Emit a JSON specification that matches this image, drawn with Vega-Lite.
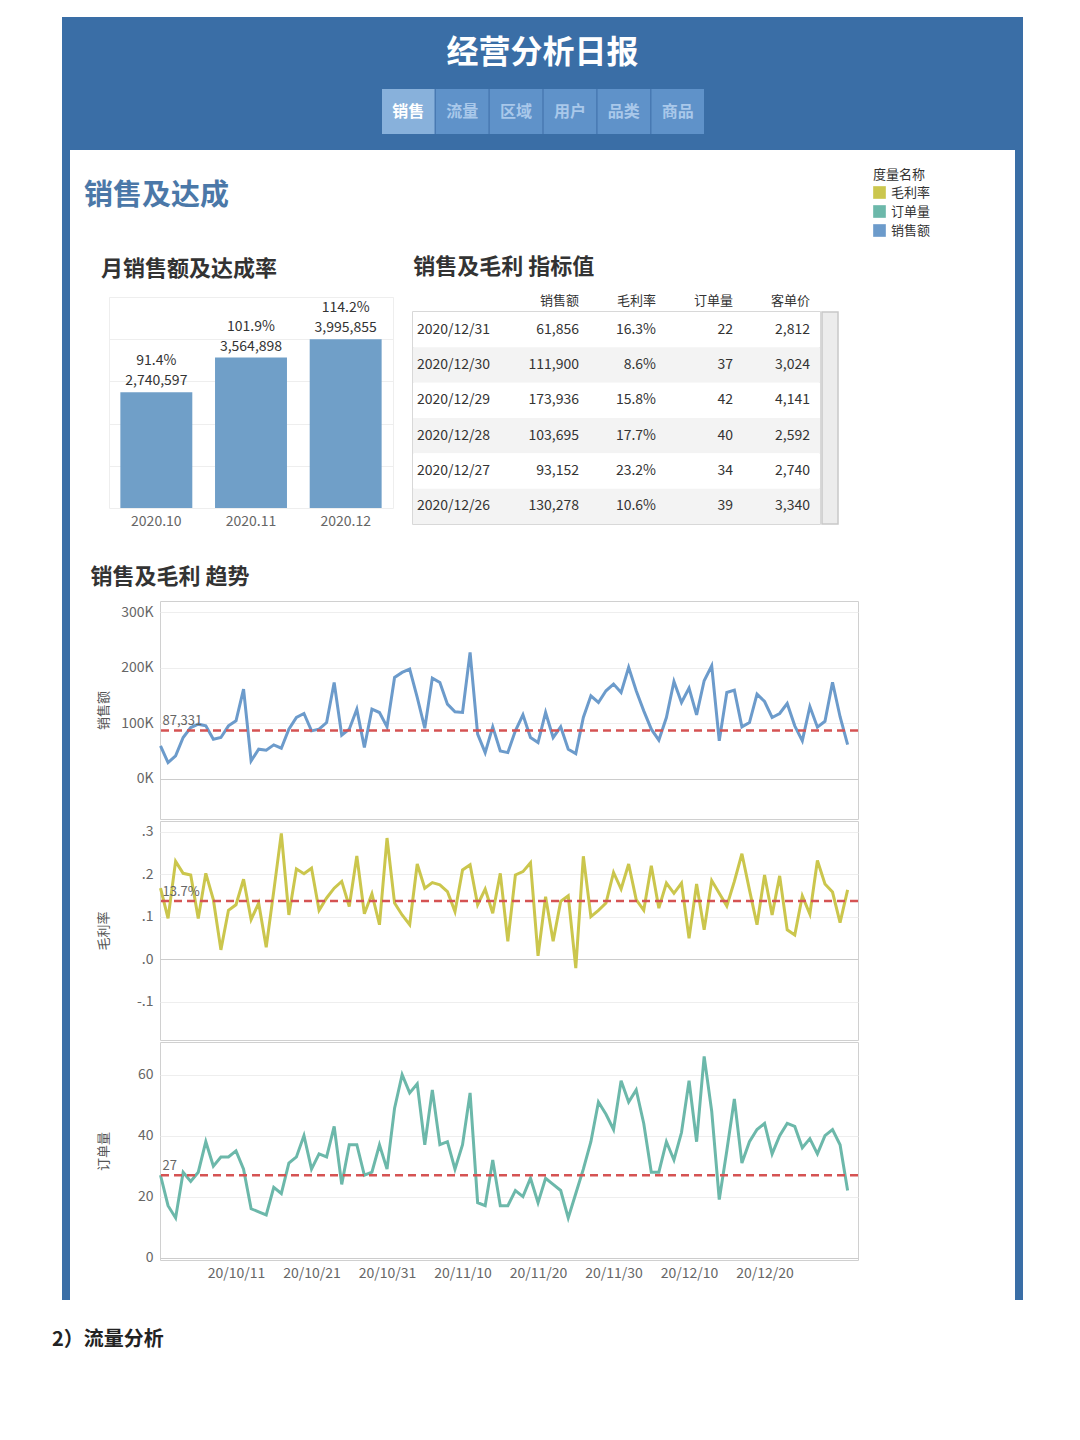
{
  "$schema": "https://vega.github.io/schema/vega-lite/v6.json",
  "padding": {"left": 52, "top": 17, "right": 10, "bottom": 20},
  "background": "#ffffff",
  "config": {
    "font": "Noto Sans CJK SC",
    "view": {"stroke": null},
    "concat": {"spacing": 0},
    "title": {"color": "#333333", "fontWeight": "bold"}
  },
  "title": {"text": "2）流量分析", "orient": "bottom", "anchor": "start", "fontSize": 20, "fontWeight": "bold", "color": "#222222", "offset": 30, "dx": -10},
  "datasets": {
    "month": [
      {"month": "2020.10", "sales": 2740597, "rate": 0.914},
      {"month": "2020.11", "sales": 3564898, "rate": 1.019},
      {"month": "2020.12", "sales": 3995855, "rate": 1.142}
    ],
    "table": [
      {"date": "2020/12/31", "销售额": 61856, "毛利率": 0.163, "订单量": 22, "客单价": 2812},
      {"date": "2020/12/30", "销售额": 111900, "毛利率": 0.086, "订单量": 37, "客单价": 3024},
      {"date": "2020/12/29", "销售额": 173936, "毛利率": 0.158, "订单量": 42, "客单价": 4141},
      {"date": "2020/12/28", "销售额": 103695, "毛利率": 0.177, "订单量": 40, "客单价": 2592},
      {"date": "2020/12/27", "销售额": 93152, "毛利率": 0.232, "订单量": 34, "客单价": 2740},
      {"date": "2020/12/26", "销售额": 130278, "毛利率": 0.106, "订单量": 39, "客单价": 3340}
    ],
    "trend": [
      {"date": "2020-10-01", "销售额": 59500, "毛利率": 0.167, "订单量": 27},
      {"date": "2020-10-02", "销售额": 29400, "毛利率": 0.096, "订单量": 17},
      {"date": "2020-10-03", "销售额": 41400, "毛利率": 0.230, "订单量": 13},
      {"date": "2020-10-04", "销售额": 74500, "毛利率": 0.202, "订单量": 28},
      {"date": "2020-10-05", "销售额": 92500, "毛利率": 0.198, "订单量": 25},
      {"date": "2020-10-06", "销售额": 98500, "毛利率": 0.096, "订单量": 28},
      {"date": "2020-10-07", "销售额": 95500, "毛利率": 0.202, "订单量": 38},
      {"date": "2020-10-08", "销售额": 71500, "毛利率": 0.140, "订单量": 30},
      {"date": "2020-10-09", "销售额": 74500, "毛利率": 0.022, "订单量": 33},
      {"date": "2020-10-10", "销售额": 95500, "毛利率": 0.115, "订单量": 33},
      {"date": "2020-10-11", "销售额": 104500, "毛利率": 0.128, "订单量": 35},
      {"date": "2020-10-12", "销售额": 161600, "毛利率": 0.188, "订单量": 29},
      {"date": "2020-10-13", "销售额": 32400, "毛利率": 0.093, "订单量": 16},
      {"date": "2020-10-14", "销售额": 53500, "毛利率": 0.132, "订单量": 15},
      {"date": "2020-10-15", "销售额": 51700, "毛利率": 0.028, "订单量": 14},
      {"date": "2020-10-16", "销售额": 61300, "毛利率": 0.160, "订单量": 23},
      {"date": "2020-10-17", "销售额": 55300, "毛利率": 0.296, "订单量": 21},
      {"date": "2020-10-18", "销售额": 89500, "毛利率": 0.104, "订单量": 31},
      {"date": "2020-10-19", "销售额": 110500, "毛利率": 0.212, "订单量": 33},
      {"date": "2020-10-20", "销售额": 117700, "毛利率": 0.201, "订单量": 40},
      {"date": "2020-10-21", "销售额": 86500, "毛利率": 0.214, "订单量": 29},
      {"date": "2020-10-22", "销售额": 89500, "毛利率": 0.115, "订单量": 34},
      {"date": "2020-10-23", "销售额": 101500, "毛利率": 0.144, "订单量": 33},
      {"date": "2020-10-24", "销售额": 173600, "毛利率": 0.167, "订单量": 43},
      {"date": "2020-10-25", "销售额": 78700, "毛利率": 0.183, "订单量": 24},
      {"date": "2020-10-26", "销售额": 89500, "毛利率": 0.124, "订单量": 37},
      {"date": "2020-10-27", "销售额": 125500, "毛利率": 0.243, "订单量": 37},
      {"date": "2020-10-28", "销售额": 56500, "毛利率": 0.107, "订单量": 27},
      {"date": "2020-10-29", "销售额": 125500, "毛利率": 0.154, "订单量": 28},
      {"date": "2020-10-30", "销售额": 119500, "毛利率": 0.081, "订单量": 37},
      {"date": "2020-10-31", "销售额": 93700, "毛利率": 0.285, "订单量": 29},
      {"date": "2020-11-01", "销售额": 182600, "毛利率": 0.132, "订单量": 49},
      {"date": "2020-11-02", "销售额": 191600, "毛利率": 0.104, "订单量": 60},
      {"date": "2020-11-03", "销售额": 197600, "毛利率": 0.081, "订单量": 54},
      {"date": "2020-11-04", "销售额": 146500, "毛利率": 0.224, "订单量": 57},
      {"date": "2020-11-05", "销售额": 91300, "毛利率": 0.167, "订单量": 37},
      {"date": "2020-11-06", "销售额": 181400, "毛利率": 0.180, "订单量": 55},
      {"date": "2020-11-07", "销售额": 173600, "毛利率": 0.175, "订单量": 37},
      {"date": "2020-11-08", "销售额": 134500, "毛利率": 0.159, "订单量": 38},
      {"date": "2020-11-09", "销售额": 120700, "毛利率": 0.112, "订单量": 29},
      {"date": "2020-11-10", "销售额": 119500, "毛利率": 0.210, "订单量": 37},
      {"date": "2020-11-11", "销售额": 227600, "毛利率": 0.222, "订单量": 54},
      {"date": "2020-11-12", "销售额": 80500, "毛利率": 0.128, "订单量": 18},
      {"date": "2020-11-13", "销售额": 47400, "毛利率": 0.165, "订单量": 17},
      {"date": "2020-11-14", "销售额": 93700, "毛利率": 0.108, "订单量": 32},
      {"date": "2020-11-15", "销售额": 50500, "毛利率": 0.202, "订单量": 17},
      {"date": "2020-11-16", "销售额": 47400, "毛利率": 0.042, "订单量": 17},
      {"date": "2020-11-17", "销售额": 86500, "毛利率": 0.198, "订单量": 22},
      {"date": "2020-11-18", "销售额": 115300, "毛利率": 0.206, "订单量": 20},
      {"date": "2020-11-19", "销售额": 74500, "毛利率": 0.227, "订单量": 26},
      {"date": "2020-11-20", "销售额": 65500, "毛利率": 0.008, "订单量": 18},
      {"date": "2020-11-21", "销售额": 119500, "毛利率": 0.147, "订单量": 26},
      {"date": "2020-11-22", "销售额": 74500, "毛利率": 0.042, "订单量": 24},
      {"date": "2020-11-23", "销售额": 93700, "毛利率": 0.136, "订单量": 22},
      {"date": "2020-11-24", "销售额": 53500, "毛利率": 0.149, "订单量": 13},
      {"date": "2020-11-25", "销售额": 45600, "毛利率": -0.021, "订单量": 21},
      {"date": "2020-11-26", "销售额": 110500, "毛利率": 0.242, "订单量": 29},
      {"date": "2020-11-27", "销售额": 149500, "毛利率": 0.100, "订单量": 38},
      {"date": "2020-11-28", "销售额": 137500, "毛利率": 0.115, "订单量": 51},
      {"date": "2020-11-29", "销售额": 158600, "毛利率": 0.132, "订单量": 47},
      {"date": "2020-11-30", "销售额": 170600, "毛利率": 0.204, "订单量": 42},
      {"date": "2020-12-01", "销售额": 155500, "毛利率": 0.165, "订单量": 58},
      {"date": "2020-12-02", "销售额": 200600, "毛利率": 0.224, "订单量": 51},
      {"date": "2020-12-03", "销售额": 158600, "毛利率": 0.140, "订单量": 55},
      {"date": "2020-12-04", "销售额": 122500, "毛利率": 0.115, "订单量": 44},
      {"date": "2020-12-05", "销售额": 89500, "毛利率": 0.220, "订单量": 28},
      {"date": "2020-12-06", "销售额": 69700, "毛利率": 0.120, "订单量": 28},
      {"date": "2020-12-07", "销售额": 110500, "毛利率": 0.179, "订单量": 38},
      {"date": "2020-12-08", "销售额": 175400, "毛利率": 0.155, "订单量": 32},
      {"date": "2020-12-09", "销售额": 137500, "毛利率": 0.179, "订单量": 41},
      {"date": "2020-12-10", "销售额": 163400, "毛利率": 0.049, "订单量": 58},
      {"date": "2020-12-11", "销售额": 115300, "毛利率": 0.177, "订单量": 38},
      {"date": "2020-12-12", "销售额": 176600, "毛利率": 0.069, "订单量": 66},
      {"date": "2020-12-13", "销售额": 203600, "毛利率": 0.185, "订单量": 48},
      {"date": "2020-12-14", "销售额": 68500, "毛利率": 0.155, "订单量": 19},
      {"date": "2020-12-15", "销售额": 155500, "毛利率": 0.125, "订单量": 35},
      {"date": "2020-12-16", "销售额": 159800, "毛利率": 0.183, "订单量": 52},
      {"date": "2020-12-17", "销售额": 93700, "毛利率": 0.248, "订单量": 31},
      {"date": "2020-12-18", "销售额": 101500, "毛利率": 0.163, "订单量": 38},
      {"date": "2020-12-19", "销售额": 152600, "毛利率": 0.081, "订单量": 42},
      {"date": "2020-12-20", "销售额": 139300, "毛利率": 0.198, "订单量": 44},
      {"date": "2020-12-21", "销售额": 110500, "毛利率": 0.104, "订单量": 34},
      {"date": "2020-12-22", "销售额": 117700, "毛利率": 0.196, "订单量": 40},
      {"date": "2020-12-23", "销售额": 135700, "毛利率": 0.069, "订单量": 44},
      {"date": "2020-12-24", "销售额": 95500, "毛利率": 0.057, "订单量": 43},
      {"date": "2020-12-25", "销售额": 68500, "毛利率": 0.149, "订单量": 36},
      {"date": "2020-12-26", "销售额": 130278, "毛利率": 0.106, "订单量": 39},
      {"date": "2020-12-27", "销售额": 93152, "毛利率": 0.232, "订单量": 34},
      {"date": "2020-12-28", "销售额": 103695, "毛利率": 0.177, "订单量": 40},
      {"date": "2020-12-29", "销售额": 173936, "毛利率": 0.158, "订单量": 42},
      {"date": "2020-12-30", "销售额": 111900, "毛利率": 0.086, "订单量": 37},
      {"date": "2020-12-31", "销售额": 61856, "毛利率": 0.163, "订单量": 22}
    ]
  },
  "spacing": 0,
  "hconcat": [
    {"width": 8, "height": 1283, "data": {"values": []}, "mark": "rect", "view": {"fill": "#3a6ea6", "stroke": null}},
    {
      "spacing": 0,
      "vconcat": [
        {
          "width": 945, "height": 72,
          "view": {"fill": "#3a6ea6", "stroke": null},
          "data": {"values": [{"t": "经营分析日报"}]},
          "mark": {"type": "text", "fontSize": 32, "fontWeight": "bold", "color": "#ffffff"},
          "encoding": {"text": {"field": "t"}}
        },
        {
          "spacing": 0,
          "hconcat": [
            {"width": 312, "height": 45, "view": {"fill": "#3a6ea6", "stroke": null}, "data": {"values": []}, "mark": "rect"},
            {
              "width": 322, "height": 45,
              "view": {"fill": "#4677b0", "stroke": null},
              "data": {"values": [{"tab": "销售"}, {"tab": "流量"}, {"tab": "区域"}, {"tab": "用户"}, {"tab": "品类"}, {"tab": "商品"}]},
              "encoding": {
                "x": {"field": "tab", "type": "nominal", "sort": null, "axis": null, "scale": {"type": "band", "paddingInner": 0.025, "paddingOuter": 0}}
              },
              "layer": [
                {
                  "mark": {"type": "rect"},
                  "encoding": {"color": {"condition": {"test": "datum.tab === '销售'", "value": "#88b1db"}, "value": "#5f92c9"}}
                },
                {
                  "mark": {"type": "text", "fontSize": 16, "fontWeight": "bold"},
                  "encoding": {
                    "text": {"field": "tab"},
                    "color": {"condition": {"test": "datum.tab === '销售'", "value": "#ffffff"}, "value": "#a9c8ea"}
                  }
                }
              ]
            },
            {"width": 311, "height": 45, "view": {"fill": "#3a6ea6", "stroke": null}, "data": {"values": []}, "mark": "rect"}
          ]
        },
        {"width": 945, "height": 16, "view": {"fill": "#3a6ea6", "stroke": null}, "data": {"values": []}, "mark": "rect"},
        {
          "width": 945, "height": 106,
          "title": {"text": "销售及达成", "anchor": "start", "frame": "group", "offset": -75, "baseline": "middle", "dx": 14, "fontSize": 29, "fontWeight": "bold", "color": "#4b78a8"},
          "data": {"values": [{"m": "毛利率"}, {"m": "订单量"}, {"m": "销售额"}]},
          "mark": {"type": "square", "opacity": 0},
          "encoding": {
            "color": {
              "field": "m", "type": "nominal",
              "scale": {"domain": ["毛利率", "订单量", "销售额"], "range": ["#cbc64d", "#6cb8aa", "#6c9bcb"]},
              "legend": {
                "orient": "none", "legendX": 811, "legendY": 152,
                "title": "度量名称", "titleFontSize": 13, "titleFontWeight": "normal", "titleColor": "#333333", "titlePadding": 4,
                "labelFontSize": 13, "labelColor": "#333333", "labelOffset": 5,
                "symbolType": "square", "symbolSize": 160, "symbolOpacity": 1, "symbolStrokeWidth": 0, "rowPadding": 5
              }
            }
          }
        },
        {
          "spacing": 0,
          "hconcat": [
            {"width": 30, "height": 1, "data": {"values": []}, "mark": "rect"},
            {
              "width": 284, "height": 211,
              "title": {"text": "月销售额及达成率", "anchor": "start", "dx": -8, "offset": 16, "fontSize": 22, "fontWeight": "bold", "color": "#333333"},
              "view": {"stroke": "#eeeeee"},
              "data": {"name": "month"},
              "encoding": {
                "x": {"field": "month", "type": "nominal", "sort": null, "scale": {"paddingInner": 0.24, "paddingOuter": 0.12},
                      "axis": {"title": null, "labelAngle": 0, "labelFontSize": 14, "labelColor": "#666666", "labelPadding": 6, "ticks": false, "domain": false}},
                "y": {"field": "sales", "type": "quantitative", "scale": {"domain": [0, 5000000], "nice": false},
                      "axis": {"title": null, "labels": false, "ticks": false, "domain": false, "grid": true, "gridColor": "#eeeeee", "values": [1000000, 2000000, 3000000, 4000000, 5000000]}}
              },
              "layer": [
                {"mark": {"type": "bar", "color": "#709fc8"}},
                {"mark": {"type": "text", "baseline": "bottom", "dy": -4, "fontSize": 14, "color": "#333333"},
                 "encoding": {"text": {"field": "sales", "type": "quantitative", "format": ","}}},
                {"mark": {"type": "text", "baseline": "bottom", "dy": -24, "fontSize": 14, "color": "#333333"},
                 "encoding": {"text": {"field": "rate", "type": "quantitative", "format": ".1%"}}}
              ]
            },
            {"width": 18, "height": 1, "data": {"values": []}, "mark": "rect"},
            {
              "title": {"text": "销售及毛利 指标值", "anchor": "start", "dx": 1, "offset": 16, "fontSize": 22, "fontWeight": "bold", "color": "#333333"},
              "spacing": 0,
              "vconcat": [
                {
                  "width": 407, "height": 14,
                  "data": {"values": [{"c": "销售额"}, {"c": "毛利率"}, {"c": "订单量"}, {"c": "客单价"}]},
                  "mark": {"type": "text", "align": "right", "dx": -10, "dy": -3, "fontSize": 13, "color": "#333333"},
                  "encoding": {
                    "x": {"field": "c", "type": "nominal", "bandPosition": 1, "axis": null,
                          "scale": {"type": "band", "domain": ["日期", "销售额", "毛利率", "订单量", "客单价"], "paddingInner": 0, "paddingOuter": 0.1429, "align": 1}},
                    "text": {"field": "c"}
                  }
                },
                {
                  "spacing": 0,
                  "hconcat": [
                    {
                      "width": 407, "height": 212,
                      "view": {"stroke": "#cccccc", "strokeWidth": 1.5},
                      "data": {"name": "table"},
                      "encoding": {
                        "y": {"field": "date", "type": "nominal", "sort": "descending", "axis": null, "scale": {"type": "band", "paddingInner": 0, "paddingOuter": 0}}
                      },
                      "layer": [
                        {
                          "transform": [{"window": [{"op": "row_number", "as": "rn"}], "sort": [{"field": "date", "order": "descending"}]}],
                          "mark": {"type": "rect"},
                          "encoding": {"color": {"condition": {"test": "datum.rn % 2 === 0", "value": "#f3f3f3"}, "value": "#ffffff"}}
                        },
                        {
                          "mark": {"type": "text", "align": "left", "dx": -18, "fontSize": 14, "color": "#333333"},
                          "encoding": {
                            "x": {"datum": "日期", "type": "nominal", "bandPosition": 0, "axis": null,
                                  "scale": {"type": "band", "domain": ["日期", "销售额", "毛利率", "订单量", "客单价"], "paddingInner": 0, "paddingOuter": 0.1429, "align": 1}},
                            "text": {"field": "date"}
                          }
                        },
                        {
                          "transform": [{"fold": ["销售额", "毛利率", "订单量", "客单价"]}],
                          "mark": {"type": "text", "align": "right", "dx": -10, "fontSize": 14, "color": "#333333"},
                          "encoding": {
                            "x": {"field": "key", "type": "nominal", "bandPosition": 1, "axis": null,
                                  "scale": {"type": "band", "domain": ["日期", "销售额", "毛利率", "订单量", "客单价"], "paddingInner": 0, "paddingOuter": 0.1429, "align": 1}},
                            "text": {
                              "condition": {"test": "datum.key === '毛利率'", "field": "value", "type": "quantitative", "format": ".1%"},
                              "field": "value", "type": "quantitative", "format": ","
                            }
                          }
                        }
                      ]
                    },
                    {"width": 16, "height": 212, "view": {"fill": "#ececec", "stroke": "#c8c8c8", "strokeWidth": 1.5}, "data": {"values": []}, "mark": "rect"}
                  ]
                }
              ]
            }
          ]
        },
        {"width": 945, "height": 36, "data": {"values": []}, "mark": "rect"},
        {
          "spacing": 0,
          "hconcat": [
            {"width": 20, "height": 1, "data": {"values": []}, "mark": "rect"},
            {
              "title": {"text": "销售及毛利 趋势", "anchor": "start", "dx": -6, "offset": 12, "fontSize": 22, "fontWeight": "bold", "color": "#333333"},
              "spacing": 0,
              "vconcat": [
                {
                  "width": 698, "height": 218,
                  "view": {"stroke": "#d0d0d0"},
                  "layer": [
                    {
                      "data": {"name": "trend"},
                      "mark": {"type": "line", "color": "#6c9bcb", "strokeWidth": 3},
                      "encoding": {
                        "x": {"field": "date", "type": "temporal", "axis": null,
                              "scale": {"type": "utc", "domain": [{"year": 2020, "month": 9, "date": 30, "hours": 22, "minutes": 24, "utc": true}, {"year": 2021, "month": 1, "date": 1, "hours": 9, "utc": true}]}},
                        "y": {"field": "销售额", "type": "quantitative", "scale": {"domain": [-72000, 320000], "nice": false, "zero": false},
                              "axis": {"title": "销售额", "titleFontSize": 13, "titleFontWeight": "normal", "titleColor": "#555555", "titleX": -57, "titleBaseline": "middle",
                                       "labelFontSize": 14, "labelColor": "#666666", "labelPadding": 7, "ticks": false, "domain": false, "grid": true,
                                       "gridColor": {"condition": {"test": "datum.value === 0", "value": "#cccccc"}, "value": "#eeeeee"},
                                       "values": [0, 100000, 200000, 300000], "labelExpr": "format(datum.value / 1000, ',') + 'K'"}}
                      }
                    },
                    {
                      "data": {"values": [{"ref": 87331}]},
                      "mark": {"type": "rule", "color": "#d55353", "strokeWidth": 2.5, "strokeDash": [8, 5]},
                      "encoding": {"y": {"field": "ref", "type": "quantitative"}}
                    },
                    {
                      "data": {"values": [{"ref": 87331}]},
                      "mark": {"type": "text", "align": "left", "baseline": "bottom", "dx": 2, "dy": -2, "fontSize": 13, "color": "#666666"},
                      "encoding": {
                        "x": {"datum": {"year": 2020, "month": 10, "date": 1, "utc": true}, "type": "temporal"},
                        "y": {"field": "ref", "type": "quantitative"},
                        "text": {"field": "ref", "type": "quantitative", "format": ","}
                      }
                    }
                  ]
                },
                {
                  "width": 698, "height": 219,
                  "view": {"stroke": "#d0d0d0"},
                  "layer": [
                    {
                      "data": {"name": "trend"},
                      "mark": {"type": "line", "color": "#cbc64d", "strokeWidth": 3},
                      "encoding": {
                        "x": {"field": "date", "type": "temporal", "axis": null,
                              "scale": {"type": "utc", "domain": [{"year": 2020, "month": 9, "date": 30, "hours": 22, "minutes": 24, "utc": true}, {"year": 2021, "month": 1, "date": 1, "hours": 9, "utc": true}]}},
                        "y": {"field": "毛利率", "type": "quantitative", "scale": {"domain": [-0.19, 0.325], "nice": false, "zero": false},
                              "axis": {"title": "毛利率", "titleFontSize": 13, "titleFontWeight": "normal", "titleColor": "#555555", "titleX": -57, "titleBaseline": "middle",
                                       "labelFontSize": 14, "labelColor": "#666666", "labelPadding": 7, "ticks": false, "domain": false, "grid": true,
                                       "gridColor": {"condition": {"test": "datum.value === 0", "value": "#cccccc"}, "value": "#eeeeee"},
                                       "values": [-0.1, 0, 0.1, 0.2, 0.3], "labelExpr": "replace(replace(format(datum.value, '.1f'), '0.', '.'), '\u2212', '-')"}}
                      }
                    },
                    {
                      "data": {"values": [{"ref": 0.137}]},
                      "mark": {"type": "rule", "color": "#d55353", "strokeWidth": 2.5, "strokeDash": [8, 5]},
                      "encoding": {"y": {"field": "ref", "type": "quantitative"}}
                    },
                    {
                      "data": {"values": [{"ref": 0.137}]},
                      "mark": {"type": "text", "align": "left", "baseline": "bottom", "dx": 2, "dy": -2, "fontSize": 13, "color": "#666666"},
                      "encoding": {
                        "x": {"datum": {"year": 2020, "month": 10, "date": 1, "utc": true}, "type": "temporal"},
                        "y": {"field": "ref", "type": "quantitative"},
                        "text": {"field": "ref", "type": "quantitative", "format": ".1%"}
                      }
                    }
                  ]
                },
                {
                  "width": 698, "height": 218,
                  "view": {"stroke": "#d0d0d0"},
                  "layer": [
                    {
                      "data": {"name": "trend"},
                      "mark": {"type": "line", "color": "#6cb8aa", "strokeWidth": 3},
                      "encoding": {
                        "x": {"field": "date", "type": "temporal",
                              "scale": {"type": "utc", "domain": [{"year": 2020, "month": 9, "date": 30, "hours": 22, "minutes": 24, "utc": true}, {"year": 2021, "month": 1, "date": 1, "hours": 9, "utc": true}]},
                              "axis": {"title": null, "format": "%y/%m/%d", "labelFontSize": 14, "labelColor": "#666666", "labelPadding": 6, "ticks": false, "domain": false, "grid": false, "labelFlush": false,
                                       "values": [
                                         {"year": 2020, "month": 10, "date": 11, "utc": true},
                                         {"year": 2020, "month": 10, "date": 21, "utc": true},
                                         {"year": 2020, "month": 10, "date": 31, "utc": true},
                                         {"year": 2020, "month": 11, "date": 10, "utc": true},
                                         {"year": 2020, "month": 11, "date": 20, "utc": true},
                                         {"year": 2020, "month": 11, "date": 30, "utc": true},
                                         {"year": 2020, "month": 12, "date": 10, "utc": true},
                                         {"year": 2020, "month": 12, "date": 20, "utc": true}
                                       ]}},
                        "y": {"field": "订单量", "type": "quantitative", "scale": {"domain": [-0.8, 70.7], "nice": false, "zero": false},
                              "axis": {"title": "订单量", "titleFontSize": 13, "titleFontWeight": "normal", "titleColor": "#555555", "titleX": -57, "titleBaseline": "middle",
                                       "labelFontSize": 14, "labelColor": "#666666", "labelPadding": 7, "ticks": false, "domain": false, "grid": true,
                                       "gridColor": {"condition": {"test": "datum.value === 0", "value": "#cccccc"}, "value": "#eeeeee"},
                                       "values": [0, 20, 40, 60]}}
                      }
                    },
                    {
                      "data": {"values": [{"ref": 27}]},
                      "mark": {"type": "rule", "color": "#d55353", "strokeWidth": 2.5, "strokeDash": [8, 5]},
                      "encoding": {"y": {"field": "ref", "type": "quantitative"}}
                    },
                    {
                      "data": {"values": [{"ref": 27}]},
                      "mark": {"type": "text", "align": "left", "baseline": "bottom", "dx": 2, "dy": -2, "fontSize": 13, "color": "#666666"},
                      "encoding": {
                        "x": {"datum": {"year": 2020, "month": 10, "date": 1, "utc": true}, "type": "temporal"},
                        "y": {"field": "ref", "type": "quantitative"},
                        "text": {"field": "ref", "type": "quantitative", "format": "d"}
                      }
                    }
                  ]
                }
              ]
            }
          ]
        }
      ]
    },
    {"width": 8, "height": 1283, "data": {"values": []}, "mark": "rect", "view": {"fill": "#3a6ea6", "stroke": null}}
  ]
}
